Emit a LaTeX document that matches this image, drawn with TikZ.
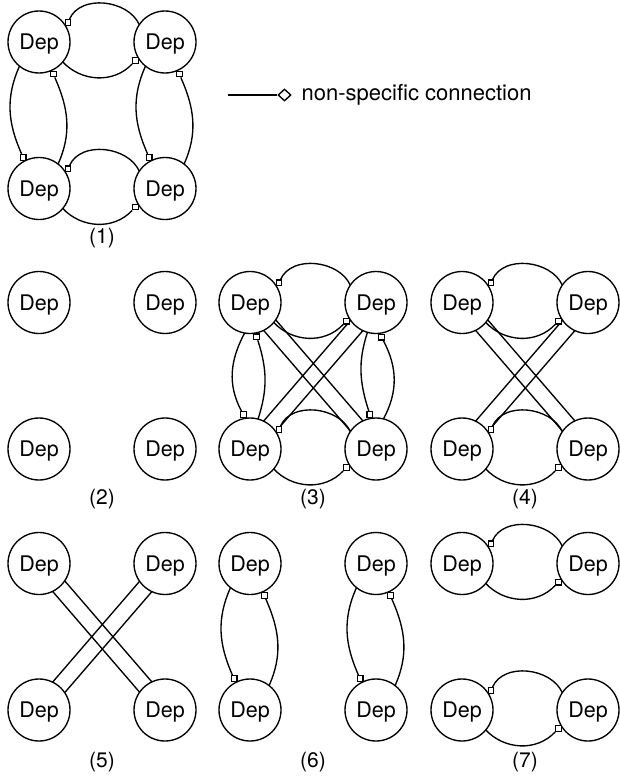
\documentclass[tikz,border=0pt]{standalone}
\usepackage{fontspec}
\setmainfont{TeX Gyre Heros}
\usetikzlibrary{calc,shapes.geometric}
\tikzset{
  dep/.style={circle, draw, minimum size=62pt, inner sep=0pt, outer sep=0pt,
    font=\fontsize{21.5}{26}\selectfont, text depth=0pt},
  sq/.style={rectangle, draw, fill=white, minimum size=5.8pt, inner sep=0pt, line width=1.1pt},
  lbl/.style={font=\fontsize{21}{25}\selectfont},
}
% horizontal pair: left node, right node
\newcommand\hpairs[2]{%
  \node[sq] (#1#2u) at ($(#1)+(34:35)$) {};
  \draw (#1#2u) to[out=66,in=114] (#2.146);
  \node[sq] (#1#2d) at ($(#2)+(212:35)$) {};
  \draw (#1.-40) to[out=-47,in=-133] (#1#2d);
}
% vertical pair: top, bottom, leftfree, leftsq, leftout, rightsq, rightfree, rightout
\newcommand\vpairs[8]{%
  \pgfmathsetmacro\vlin{-(#5)}%
  \pgfmathsetmacro\vrin{-(#8)}%
  \node[sq] (#1#2l) at ($(#2)+(#4:35)$) {};
  \draw (#1.#3) to[out=#5,in=\vlin] (#1#2l);
  \node[sq] (#1#2r) at ($(#1)+(#6:35)$) {};
  \draw (#1#2r) to[out=#8,in=\vrin] (#2.#7);
}
% crossing double lines: TL, TR, BL, BR
\newcommand\diags[4]{%
  \draw (#1.-34.3) -- (#4.115.7);
  \draw (#1.-64.3) -- (#4.145.7);
  \draw (#2.-115.7) -- (#3.34.3);
  \draw (#2.-145.7) -- (#3.64.3);
}
\begin{document}
\begin{tikzpicture}[x=1pt,y=1pt,line width=1.35pt]
\useasboundingbox (0,0) rectangle (619,-779);
% ---------- panel 1
\node[dep] (a1) at (39,-42) {Dep};
\node[dep] (a2) at (165,-42) {Dep};
\node[dep] (a3) at (39,-188.5) {Dep};
\node[dep] (a4) at (165,-188.5) {Dep};
\hpairs{a1}{a2}
\hpairs{a3}{a4}
\vpairs{a1}{a3}{231}{117}{-114}{-66}{52}{-66}
\vpairs{a2}{a4}{231}{117}{-114}{-66}{52}{-66}
\node[lbl] (l1) at (102,-238) {(1)};
% ---------- legend
\coordinate (lg0) at (227.5,-95);
\node[diamond, draw, minimum width=13pt, minimum height=12pt, inner sep=0pt] (lgd) at (284.5,-95) {};
\draw (lg0) -- (lgd);
\node[anchor=base west, font=\fontsize{22}{26}\selectfont, inner sep=0pt] (lgt) at (301,-100.7) {non-specific connection};
% ---------- panel 2
\node[dep] (b1) at (39,-302.5) {Dep};
\node[dep] (b2) at (165,-302.5) {Dep};
\node[dep] (b3) at (39,-449) {Dep};
\node[dep] (b4) at (165,-449) {Dep};
\node[lbl] (l2) at (102,-499) {(2)};
% ---------- panel 3
\node[dep] (c1) at (250,-302.5) {Dep};
\node[dep] (c2) at (376,-302.5) {Dep};
\node[dep] (c3) at (250,-449) {Dep};
\node[dep] (c4) at (376,-449) {Dep};
\diags{c1}{c2}{c3}{c4}
\hpairs{c1}{c2}
\hpairs{c3}{c4}
\vpairs{c1}{c3}{-100}{101}{-118}{-79}{75}{-72}
\vpairs{c2}{c4}{-106}{100}{-108}{-81}{76}{-62}
\node[lbl] (l3) at (313,-499) {(3)};
% ---------- panel 4
\node[dep] (d1) at (462,-302.5) {Dep};
\node[dep] (d2) at (588,-302.5) {Dep};
\node[dep] (d3) at (462,-449) {Dep};
\node[dep] (d4) at (588,-449) {Dep};
\diags{d1}{d2}{d3}{d4}
\hpairs{d1}{d2}
\hpairs{d3}{d4}
\node[lbl] (l4) at (525,-499) {(4)};
% ---------- panel 5
\node[dep] (e1) at (39,-563.5) {Dep};
\node[dep] (e2) at (165,-563.5) {Dep};
\node[dep] (e3) at (39,-710) {Dep};
\node[dep] (e4) at (165,-710) {Dep};
\diags{e1}{e2}{e3}{e4}
\node[lbl] (l5) at (102,-762) {(5)};
% ---------- panel 6
\node[dep] (f1) at (250,-563.5) {Dep};
\node[dep] (f2) at (376,-563.5) {Dep};
\node[dep] (f3) at (250,-710) {Dep};
\node[dep] (f4) at (376,-710) {Dep};
\vpairs{f1}{f3}{231}{117}{-114}{-66}{52}{-66}
\vpairs{f2}{f4}{231}{117}{-114}{-66}{52}{-66}
\node[lbl] (l6) at (313,-762) {(6)};
% ---------- panel 7
\node[dep] (g1) at (462,-563.5) {Dep};
\node[dep] (g2) at (588,-563.5) {Dep};
\node[dep] (g3) at (462,-710) {Dep};
\node[dep] (g4) at (588,-710) {Dep};
\hpairs{g1}{g2}
\hpairs{g3}{g4}
\node[lbl] (l7) at (525,-762) {(7)};
\end{tikzpicture}
\end{document}
